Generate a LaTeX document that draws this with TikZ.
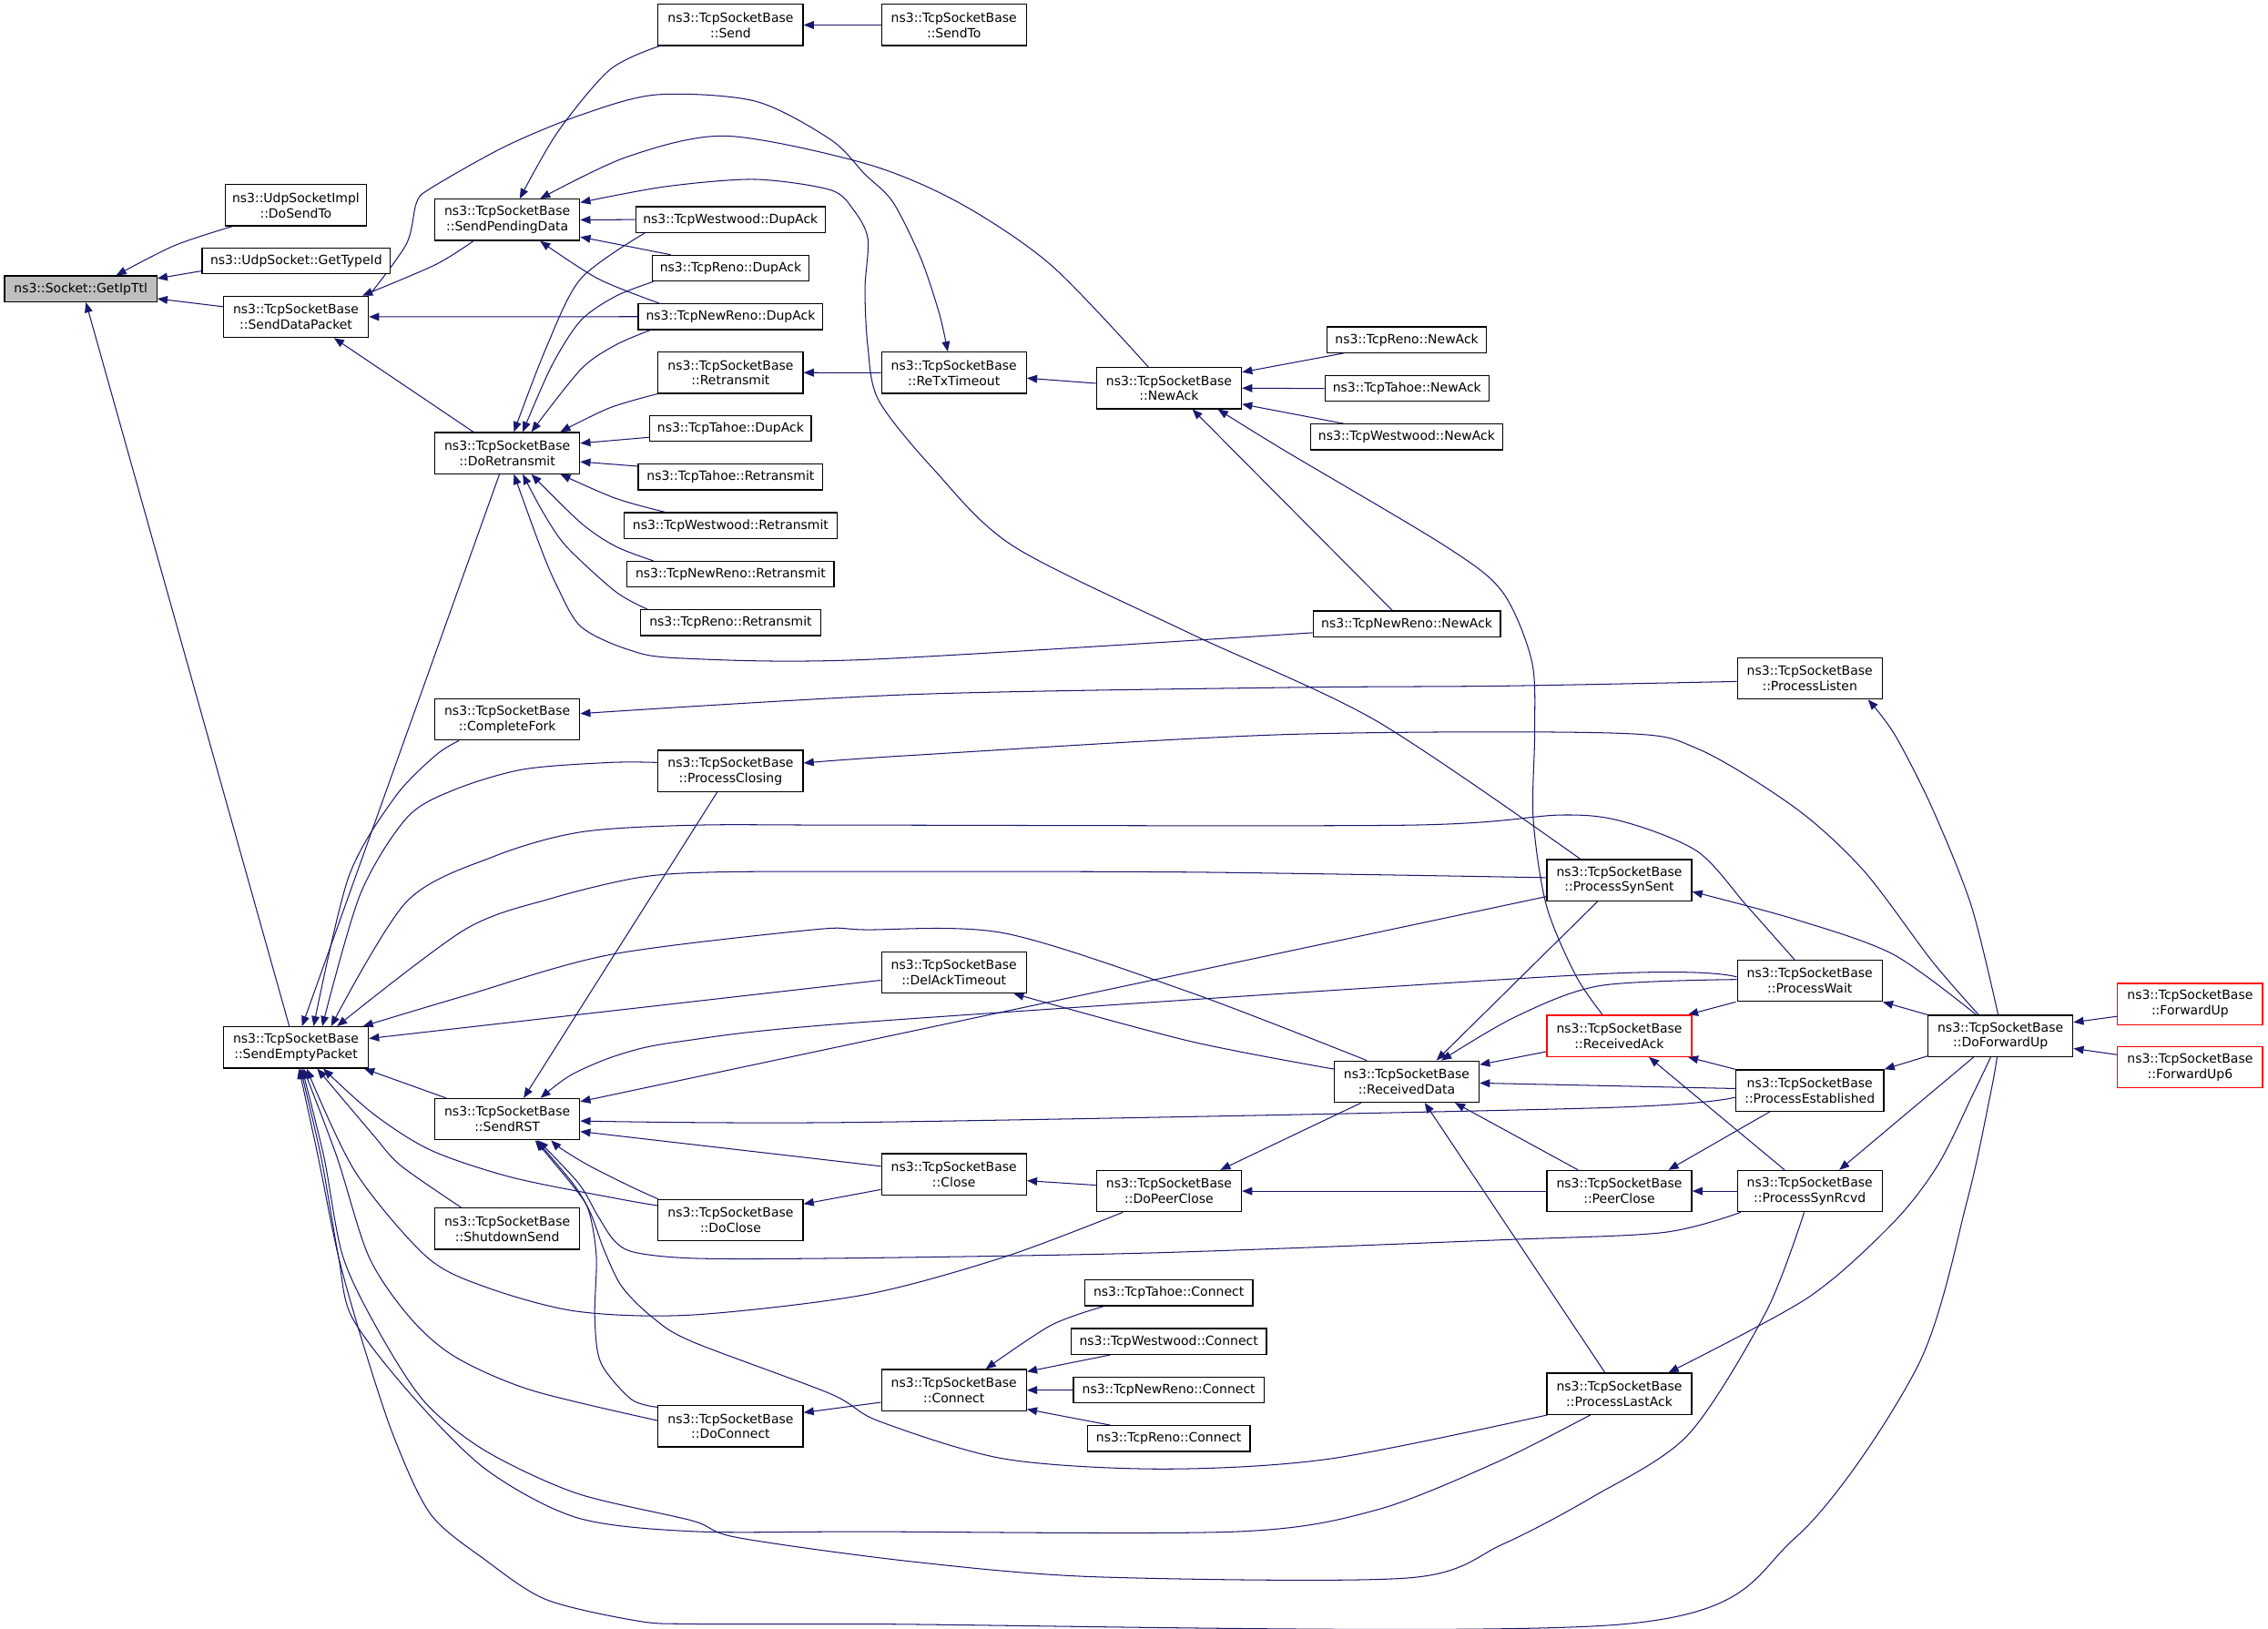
\documentclass[tikz,border=0pt]{standalone}
\usepackage{fontspec}
\setmainfont{DejaVu Sans}
\usetikzlibrary{calc,arrows.meta}
\definecolor{edgeblue}{HTML}{191970}
\definecolor{nodegray}{HTML}{BFBFBF}
\pgfdeclarelayer{bg}
\pgfsetlayers{bg,main}
\tikzset{
  fn/.style={draw=black, line width=0.8pt, fill=white, inner sep=0pt, align=center,
             font=\fontsize{8.8}{10.6}\selectfont, text=black},
  one/.style={fn, minimum height=17.8pt},
  two/.style={fn, minimum height=28.5pt, minimum width=100.2pt},
  trunc/.style={draw=red},
  cg/.style={draw=edgeblue, line width=0.65pt, -{Triangle[length=7pt,width=5.5pt]}}
}
\begin{document}
\begin{tikzpicture}[x=1pt,y=-1pt]
\useasboundingbox (0,0) rectangle (1568,1126.1);
% ---------- nodes ----------
\node[one, fill=nodegray, minimum width=105.2pt] (GetIpTtl) at (55.8,199.7) {ns3::Socket::GetIpTtl};
\node[two, minimum width=97.5pt] (DoSendTo) at (204.5,141.9) {ns3::UdpSocketImpl\\::DoSendTo};
\node[one, minimum width=130.1pt] (GetTypeId) at (204.8,180.3) {ns3::UdpSocket::GetTypeId};
\node[two] (SDP) at (204.6,219) {ns3::TcpSocketBase\\::SendDataPacket};
\node[two] (SPD) at (350.7,152) {ns3::TcpSocketBase\\::SendPendingData};
\node[two] (Send) at (505.1,17.3) {ns3::TcpSocketBase\\::Send};
\node[two] (SendTo) at (659.5,17.3) {ns3::TcpSocketBase\\::SendTo};
\node[one, minimum width=131pt] (WDup) at (505,151.8) {ns3::TcpWestwood::DupAck};
\node[one, minimum width=108.4pt] (RDup) at (505.1,185.4) {ns3::TcpReno::DupAck};
\node[one, minimum width=127.6pt] (NRDup) at (505.1,218.9) {ns3::TcpNewReno::DupAck};
\node[two] (Retr) at (505.1,257.6) {ns3::TcpSocketBase\\::Retransmit};
\node[two] (ReTx) at (659.5,257.7) {ns3::TcpSocketBase\\::ReTxTimeout};
\node[two] (NewAck) at (808.2,268.3) {ns3::TcpSocketBase\\::NewAck};
\node[one, minimum width=110.1pt] (RNewAck) at (972.6,234.9) {ns3::TcpReno::NewAck};
\node[one, minimum width=113.4pt] (TNewAck) at (972.7,268.6) {ns3::TcpTahoe::NewAck};
\node[one, minimum width=133pt] (WNewAck) at (972.5,302.1) {ns3::TcpWestwood::NewAck};
\node[one, minimum width=111.6pt] (TDup) at (505.1,296.2) {ns3::TcpTahoe::DupAck};
\node[two] (DoRetr) at (350.7,313.2) {ns3::TcpSocketBase\\::DoRetransmit};
\node[one, minimum width=127.6pt] (TRetr) at (505.1,329.8) {ns3::TcpTahoe::Retransmit};
\node[one, minimum width=147pt] (WRetr) at (505.1,363.3) {ns3::TcpWestwood::Retransmit};
\node[one, minimum width=143pt] (NRRetr) at (505.1,397) {ns3::TcpNewReno::Retransmit};
\node[one, minimum width=124.4pt] (RRetr) at (505.1,430.5) {ns3::TcpReno::Retransmit};
\node[one, minimum width=129.5pt] (NRNewAck) at (972.6,431.3) {ns3::TcpNewReno::NewAck};
\node[two] (PListen) at (1251.2,469) {ns3::TcpSocketBase\\::ProcessListen};
\node[two] (CFork) at (350.7,497.4) {ns3::TcpSocketBase\\::CompleteFork};
\node[two] (PClosing) at (505.1,533) {ns3::TcpSocketBase\\::ProcessClosing};
\node[two] (PSynSent) at (1119.5,608.5) {ns3::TcpSocketBase\\::ProcessSynSent};
\node[two] (PWait) at (1251.2,678) {ns3::TcpSocketBase\\::ProcessWait};
\node[two] (DelAck) at (659.5,672.2) {ns3::TcpSocketBase\\::DelAckTimeout};
\node[two, trunc] (RAck) at (1119.5,716.1) {ns3::TcpSocketBase\\::ReceivedAck};
\node[two] (DFU) at (1383,716.1) {ns3::TcpSocketBase\\::DoForwardUp};
\node[two, trunc] (FU) at (1514.1,694) {ns3::TcpSocketBase\\::ForwardUp};
\node[two, trunc] (FU6) at (1514.1,737.8) {ns3::TcpSocketBase\\::ForwardUp6};
\node[two] (SEP) at (204.6,724.1) {ns3::TcpSocketBase\\::SendEmptyPacket};
\node[two] (RData) at (972.5,747.7) {ns3::TcpSocketBase\\::ReceivedData};
\node[two, minimum width=102.4pt] (PEst) at (1251.2,753.8) {ns3::TcpSocketBase\\::ProcessEstablished};
\node[two] (SRST) at (350.7,773.7) {ns3::TcpSocketBase\\::SendRST};
\node[two] (Close) at (659.5,811.7) {ns3::TcpSocketBase\\::Close};
\node[two] (DPC) at (808.2,823.4) {ns3::TcpSocketBase\\::DoPeerClose};
\node[two] (PClose) at (1119.5,823.4) {ns3::TcpSocketBase\\::PeerClose};
\node[two] (PSynRcvd) at (1251.2,823.4) {ns3::TcpSocketBase\\::ProcessSynRcvd};
\node[two] (DoClose) at (505.1,843.5) {ns3::TcpSocketBase\\::DoClose};
\node[two] (Shut) at (350.7,849.4) {ns3::TcpSocketBase\\::ShutdownSend};
\node[one, minimum width=116.3pt] (TConn) at (808,893.8) {ns3::TcpTahoe::Connect};
\node[one, minimum width=135pt] (WConn) at (808,927.3) {ns3::TcpWestwood::Connect};
\node[one, minimum width=131.7pt] (NRConn) at (808,960.9) {ns3::TcpNewReno::Connect};
\node[one, minimum width=112.4pt] (RConn) at (808,994.5) {ns3::TcpReno::Connect};
\node[two] (Connect) at (659.5,961) {ns3::TcpSocketBase\\::Connect};
\node[two] (DoConn) at (505.1,985.9) {ns3::TcpSocketBase\\::DoConnect};
\node[two] (PLast) at (1119.5,963.5) {ns3::TcpSocketBase\\::ProcessLastAck};
% ---------- edges ----------
\begin{pgfonlayer}{bg}
\fill[white] (0,0) rectangle (1568,1126.1);
\draw[cg] plot[smooth] coordinates {($(DoSendTo.south)+(-44,0)$) (120.5,169.8) ($(GetIpTtl.north)+(24.5,0)$)};
\draw[cg] ($(GetTypeId.west)+(0,7)$) -- ($(GetIpTtl.east)+(0,-7.2)$);
\draw[cg] ($(SDP.west)+(0,-7)$) -- ($(GetIpTtl.east)+(0,6.8)$);
\draw[cg] ($(SEP.north)+(-4.6,0)$) -- ($(GetIpTtl.south)+(3.6,0)$);
\draw[cg] plot[smooth] coordinates {($(SPD.south)+(-23.5,0)$) (301,183) ($(SDP.north)+(46,0)$)};
\draw[cg] ($(DoRetr.north)+(-23.5,0)$) -- ($(SDP.south)+(26.3,0)$);
\draw[cg] (NRDup.west) -- (SDP.east);
\draw[cg] plot[smooth] coordinates {($(Send.south west)+(1,0)$) (421.6,48.2) (385.4,91.5) ($(SPD.north)+(8.6,0)$)};
\draw[cg] (WDup.west) -- (SPD.east);
\draw[cg] ($(RDup.north)+(-41.4,0)$) -- ($(SPD.east)+(0,11.8)$);
\draw[cg] plot[smooth] coordinates {($(NRDup.north)+(-49.4,0)$) (413.5,192.7) ($(SPD.south)+(22.7,0)$)};
\draw[cg] plot[smooth] coordinates {($(NewAck.north)+(-14.3,0)$) (726.5,183.1) (662.2,139.7) (598,113) (501.9,94) (433.6,108.4) ($(SPD.north)+(22.7,0)$)};
\draw[cg] plot[smooth] coordinates {($(PSynSent.north)+(-26.9,0)$) (951.3,498.2) (822.8,437.9) (700.8,377.7) (646.2,325.2) (607.6,277) (600,240) (598,200) (600,165) (590,145) (574.1,131.3) (522,124) (460,129) ($(SPD.east)+(0,-12)$)};
\draw[cg] (SendTo.west) -- (Send.east);
\draw[cg] plot[smooth] coordinates {(SDP.north east) (281,168.6) (288,140) (298,130) (349.3,101.2) (401.5,79.5) (453.7,65.5) (522,69.9) (574.1,96.4) (598,120.5) (617.3,139.7) (636.5,178.3) (649.4,216.8) ($(ReTx.north)+(-4.3,0)$)};
\draw[cg] ($(NewAck.west)+(0,-3.3)$) -- ($(ReTx.east)+(0,3.7)$);
\draw[cg] (ReTx.west) -- (Retr.east);
\draw[cg] plot[smooth] coordinates {(Retr.south west) (421.6,281.9) ($(DoRetr.north)+(36.7,0)$)};
\draw[cg] plot[smooth] coordinates {($(WDup.south)+(-59.3,0)$) (401.5,192.7) (377.4,240.9) ($(DoRetr.north)+(4.6,0)$)};
\draw[cg] plot[smooth] coordinates {($(RDup.south)+(-53.4,0)$) (425.6,204.8) (401.5,221.6) (381.4,252.9) ($(DoRetr.north)+(10.7,0)$)};
\draw[cg] plot[smooth] coordinates {($(NRDup.south)+(-55.4,0)$) (425.6,238.5) (401.5,255.4) ($(DoRetr.north)+(16.7,0)$)};
\draw[cg] ($(TDup.west)+(0,6.1)$) -- ($(DoRetr.east)+(0,-6.8)$);
\draw[cg] ($(TRetr.west)+(0,-7.5)$) -- ($(DoRetr.east)+(0,6)$);
\draw[cg] plot[smooth] coordinates {($(WRetr.north)+(-45.4,0)$) (425.6,344.5) ($(DoRetr.south)+(36.7,0)$)};
\draw[cg] plot[smooth] coordinates {($(NRRetr.north)+(-53.4,0)$) (425.6,377.7) (401.5,361.4) ($(DoRetr.south)+(16.7,0)$)};
\draw[cg] plot[smooth] coordinates {($(RRetr.north)+(-57.4,0)$) (425.6,409) (391.5,377.7) (375.4,354.1) ($(DoRetr.south)+(10.7,0)$)};
\draw[cg] plot[smooth] coordinates {($(NRNewAck.west)+(0,6.1)$) (598,456) (470,455) (433.6,448.8) (401.5,433.1) (385,405) (373.4,377.7) ($(DoRetr.south)+(4.6,0)$)};
\draw[cg] ($(RNewAck.south)+(-43.8,0)$) -- ($(NewAck.east)+(0,-11)$);
\draw[cg] (TNewAck.west) -- (NewAck.east);
\draw[cg] ($(WNewAck.north)+(-43.7,0)$) -- ($(NewAck.east)+(0,11.1)$);
\draw[cg] ($(NRNewAck.north)+(-10,0)$) -- ($(NewAck.south)+(16.2,0)$);
\draw[cg] plot[smooth] coordinates {($(RAck.north)+(-11.6,0)$) (1089.3,674.2) (1069.1,626) (1060,566) (1061,506) (1059,457) (1038.7,409.2) (999.5,377.7) (887,310.8) ($(NewAck.south)+(33.8,0)$)};
\draw[cg] ($(DoRetr.south)+(-5.4,0)$) -- ($(SEP.north)+(4.2,0)$);
\draw[cg] plot[smooth] coordinates {($(CFork.south)+(-33.5,0)$) (301.1,522.2) (273,551.1) (240.9,606.6) ($(SEP.north)+(12.2,0)$)};
\draw[cg] plot[smooth] coordinates {($(PListen.west)+(0,2.1)$) (1038.7,474.2) (887,475.3) (629.5,480.1) ($(CFork.east)+(0,-4.1)$)};
\draw[cg] plot[smooth] coordinates {($(PClosing.west)+(0,-5.9)$) (421.6,527.1) (361.4,531.9) (313.2,546.3) (281,565.6) (248.9,618.6) ($(SEP.north)+(18.2,0)$)};
\draw[cg] plot[smooth] coordinates {($(DFU.north)+(-15.1,0)$) (1335.8,664.5) (1288.5,601.9) (1241.3,558.6) (1173.7,517.6) (1116.3,506.8) (887.1,507.8) (629.5,522.2) ($(PClosing.east)+(0,-5.5)$)};
\draw[cg] ($(PClosing.south)+(-9.3,0)$) -- ($(SRST.north)+(11.3,0)$);
\draw[cg] plot[smooth] coordinates {($(PWait.north)+(-10.6,0)$) (1207.5,626) (1173.7,588.7) (1123.1,568.2) (1079.2,563.4) (973.8,570.4) (598,570.4) (481.8,570.4) (401.5,575.2) (341.3,592.1) (281,623.4) ($(SEP.north)+(24.3,0)$)};
\draw[cg] plot[smooth] coordinates {($(PSynSent.west)+(0,-1.8)$) (822.8,602.9) (598,602.5) (493.8,602.9) (441.7,606.6) (381.4,621) (321.2,642.7) ($(SEP.north)+(28.4,0)$)};
\draw[cg] plot[smooth] coordinates {($(RData.north)+(-27.6,0)$) (822.8,686) (694.4,645.1) (598,642.7) (562.1,642.7) (421.6,660) (321.2,688.4) ($(SEP.north)+(46.3,0)$)};
\draw[cg] ($(DelAck.west)+(0,5.4)$) -- ($(SEP.east)+(0,-6.2)$);
\draw[cg] ($(SRST.north)+(-42.3,0)$) -- ($(SEP.south)+(47.2,0)$);
\draw[cg] plot[smooth] coordinates {($(DoClose.west)+(0,-10.1)$) (428,828.8) (354.6,814.1) (298,795.2) (258.1,770) ($(SEP.south)+(18.9,0)$)};
\draw[cg] plot[smooth] coordinates {($(Shut.north)+(-31.8,0)$) (277,805.7) (258.1,784.7) ($(SEP.south)+(14.7,0)$)};
\draw[cg] plot[smooth] coordinates {($(DPC.south)+(-31.9,0)$) (694.4,868.9) (598,895) (478.4,909) (398.7,906.5) (335.7,889.7) (294.8,868.7) (245.5,809.9) ($(SEP.south)+(7.4,0)$)};
\draw[cg] plot[smooth] coordinates {($(DoConn.west)+(0,-3.9)$) (367.2,961) (314.7,938) (283.3,910.7) (255,868.7) (233,800) ($(SEP.south)+(5.2,0)$)};
\draw[cg] plot[smooth] coordinates {($(PLast.south)+(-20,0)$) (1034.8,1010.8) (951.3,1043.9) (855,1058.8) (598,1058.8) (478.4,1058.6) (398.7,1049.1) (335.7,1015.6) (283.3,963.1) (243.4,910.7) (234,868.7) (222,800) ($(SEP.south)+(3.1,0)$)};
\draw[cg] plot[smooth] coordinates {($(PSynRcvd.south)+(-3.9,0)$) (1221,906.8) (1167,991.9) (1101.6,1034.5) (1038.7,1067.6) (973.8,1090.8) (758.6,1090.1) (629.5,1079.4) (509.9,1062.9) (478.4,1051.2) (398.7,1032.3) (335.7,1003) (293.8,969.4) (262.3,921.2) (237.1,868.7) (224,800) ($(SEP.south)+(4.2,0)$)};
\draw[cg] plot[smooth] coordinates {($(DFU.south)+(-2.3,0)$) (1376.3,755.4) (1360,830) (1325.7,944.6) (1241.3,1062.9) (1123.1,1122.7) (598,1122.7) (478.4,1122.6) (440.6,1120.5) (377.7,1105.8) (335.7,1078.5) (297.9,1047) (272.8,994.6) (251.8,931.6) (234,868.7) (220,800) ($(SEP.south)+(2.1,0)$)};
\draw[cg] plot[smooth] coordinates {($(PWait.west)+(0,-2.6)$) (1101.6,673.5) (598,706.5) (470,720) (428,729.1) (395,743) ($(SRST.north)+(23,0)$)};
\draw[cg] ($(PSynSent.west)+(0,11.3)$) -- ($(SRST.east)+(0,-12.2)$);
\draw[cg] plot[smooth] coordinates {($(PEst.west)+(0,4.7)$) (1101.6,766) (598,775.8) ($(SRST.east)+(0,1.2)$)};
\draw[cg] ($(Close.west)+(0,-5.5)$) -- ($(SRST.east)+(0,8.5)$);
\draw[cg] plot[smooth] coordinates {($(DoClose.north west)+(0.4,0)$) (436.4,820.4) (407.1,805.7) (388.2,794.2) ($(SRST.south)+(30.3,0)$)};
\draw[cg] plot[smooth] coordinates {($(PSynRcvd.south west)+(2.7,0)$) (1150,852) (1038.7,857.1) (800,866) (598,869.6) (484.7,870) (440,866) (425,858) (413,840) (400,818) ($(SRST.south)+(21.3,0)$)};
\draw[cg] plot[smooth] coordinates {($(PLast.south west)+(0.8,0)$) (919.2,1008.5) (803.6,1015.5) (694.4,1008.5) (607.6,982.4) (574.1,963.5) (478.4,927.4) (451.1,910.7) (430.1,889.7) (418,865) (408,838) (396,818) ($(SRST.south)+(20.3,0)$)};
\draw[cg] plot[smooth] coordinates {($(DoConn.north west)+(0,1.5)$) (436.4,967.3) (415.4,942.1) (411.2,910.7) (412.3,868.7) (407.1,837.2) (396.6,820.4) ($(SRST.south)+(19.3,0)$)};
\draw[cg] plot[smooth] coordinates {($(RData.west)+(0,-8.7)$) (822.8,719.8) ($(DelAck.south)+(41.3,0)$)};
\draw[cg] ($(PSynSent.south)+(-15,0)$) -- ($(RData.north)+(20.6,0)$);
\draw[cg] plot[smooth] coordinates {($(PWait.west)+(0,-0.9)$) (1106.2,681.4) (1047.7,702.9) ($(RData.north)+(24,0)$)};
\draw[cg] ($(RAck.west)+(0,10.9)$) -- ($(RData.east)+(0,-11.7)$);
\draw[cg] ($(PEst.west)+(0,-1.3)$) -- ($(RData.east)+(0,1)$);
\draw[cg] ($(PClose.north)+(-28.5,0)$) -- ($(RData.south)+(33.4,0)$);
\draw[cg] ($(PLast.north)+(-9.9,0)$) -- ($(RData.south)+(12.5,0)$);
\draw[cg] ($(PWait.south west)+(-0.7,0)$) -- ($(RAck.north east)+(-3,0)$);
\draw[cg] (PEst.north west) -- ($(RAck.south east)+(-3,0)$);
\draw[cg] ($(PSynRcvd.north)+(-17.4,0)$) -- ($(RAck.south)+(20.5,0)$);
\draw[cg] plot[smooth] coordinates {($(DFU.north)+(-1.6,0)$) (1362.8,626) (1335.8,558.6) (1310,508) ($(PListen.south)+(40.3,0)$)};
\draw[cg] plot[smooth] coordinates {($(DFU.north)+(-16.8,0)$) (1308.8,659.7) (1241.3,635.6) ($(PSynSent.east)+(0,7.9)$)};
\draw[cg] (DFU.north west) -- (PWait.south east);
\draw[cg] ($(DFU.south west)+(0,-0.7)$) -- (PEst.north east);
\draw[cg] ($(DFU.south)+(-18.5,0)$) -- ($(PSynRcvd.north)+(20.4,0)$);
\draw[cg] plot[smooth] coordinates {($(DFU.south)+(-6.7,0)$) (1364.5,755.4) (1340,805) (1308.8,845.3) (1250,897) ($(PLast.north)+(34,0)$)};
\draw[cg] ($(FU.west)+(0,8.6)$) -- ($(DFU.east)+(0,-9.4)$);
\draw[cg] ($(FU6.west)+(0,-8.7)$) -- ($(DFU.east)+(0,8.7)$);
\draw[cg] ($(RData.south)+(-31.4,0)$) -- ($(DPC.north)+(35.5,0)$);
\draw[cg] (PClose.west) -- (DPC.east);
\draw[cg] ($(DPC.west)+(0,-4.1)$) -- ($(Close.east)+(0,4.5)$);
\draw[cg] ($(Close.west)+(0,10.6)$) -- ($(DoClose.east)+(0,-11.2)$);
\draw[cg] ($(PEst.south)+(-27.5,0)$) -- ($(PClose.north)+(34,0)$);
\draw[cg] (PSynRcvd.west) -- (PClose.east);
\draw[cg] ($(Connect.west)+(0,8.4)$) -- ($(DoConn.east)+(0,-9.4)$);
\draw[cg] plot[smooth] coordinates {($(TConn.south west)+(13.5,0)$) (726.5,916.2) ($(Connect.north)+(22,0)$)};
\draw[cg] ($(WConn.south west)+(27.6,0)$) -- ($(Connect.east)+(0,-12.8)$);
\draw[cg] (NRConn.west) -- (Connect.east);
\draw[cg] ($(RConn.north west)+(16.3,0)$) -- ($(Connect.east)+(0,13.2)$);
\end{pgfonlayer}
\end{tikzpicture}
\end{document}
